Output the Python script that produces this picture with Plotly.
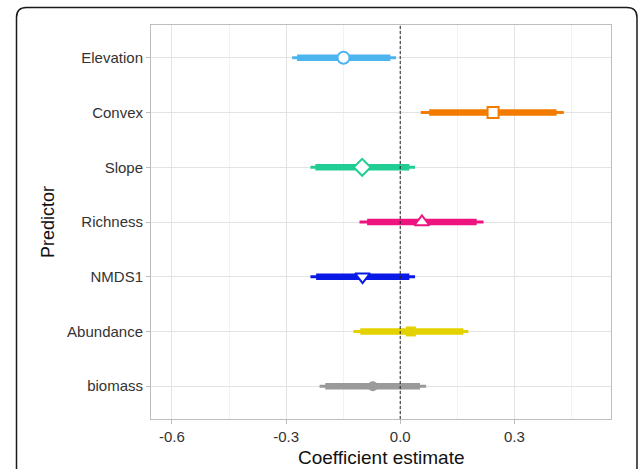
import plotly.graph_objects as go

predictors = ["Elevation", "Convex", "Slope", "Richness", "NMDS1", "Abundance", "biomass"]
estimate = [-0.149, 0.244, -0.100, 0.057, -0.099, 0.028, -0.072]
lo_outer = [-0.284, 0.054, -0.236, -0.107, -0.236, -0.123, -0.212]
hi_outer = [-0.011, 0.430, 0.039, 0.219, 0.039, 0.179, 0.068]
lo_inner = [-0.271, 0.076, -0.223, -0.087, -0.221, -0.105, -0.197]
hi_inner = [-0.026, 0.411, 0.024, 0.201, 0.024, 0.166, 0.052]
colors = ["#4CB4EE", "#F27B00", "#22CC95", "#EE1480", "#0A1AE6", "#E4D200", "#9A9A9A"]
symbols = ["circle", "square", "diamond", "triangle-up", "triangle-down", "square", "circle"]
marker_sizes = [12, 11, 13, 13, 13, 10, 10]
hollow = [True, True, True, True, True, False, False]
x_ticks = [-0.6, -0.3, 0.0, 0.3]
x_tick_labels = ["-0.6", "-0.3", "0.0", "0.3"]
x_title = "Coefficient estimate"
y_title = "Predictor"

W, H = 638, 469
L, R, T, B = 151, 27, 25, 50
pw, ph = W - L - R, H - T - B

fig = go.Figure()
for i, p in enumerate(predictors):
    c = colors[i]
    fig.add_trace(go.Scatter(x=[lo_outer[i], hi_outer[i]], y=[p, p], mode="lines",
                             line=dict(color=c, width=3), showlegend=False, hoverinfo="skip"))
    fig.add_trace(go.Scatter(x=[lo_inner[i], hi_inner[i]], y=[p, p], mode="lines",
                             line=dict(color=c, width=6.5), showlegend=False, hoverinfo="skip"))
    if hollow[i]:
        mk = dict(symbol=symbols[i], size=marker_sizes[i], color="white", line=dict(color=c, width=2))
    else:
        mk = dict(symbol=symbols[i], size=marker_sizes[i], color=c, line=dict(color=c, width=0))
    fig.add_trace(go.Scatter(x=[estimate[i]], y=[p], mode="markers", marker=mk,
                             showlegend=False))


def px2paper(x, y):
    return (x - L) / pw, (H - B - y) / ph


def path(points):
    s = ""
    for cmd, pts in points:
        s += cmd
        s += " ".join("%.5f,%.5f" % px2paper(*pt) for pt in pts) + " "
    return s.strip()


frame = path([
    ("M", [(16.5, 469)]),
    ("L", [(16.5, 17.5)]),
    ("Q", [(16.5, 7.5), (26.5, 7.5)]),
    ("L", [(627, 7.5)]),
    ("Q", [(637, 7.5), (637, 17.5)]),
    ("L", [(637, 469)]),
])

fig.add_shape(type="path", path=frame, xref="paper", yref="paper",
              line=dict(color="#1a1a1a", width=1.5), layer="above")
fig.add_shape(type="line", x0=0, x1=0, y0=0, y1=1, xref="x", yref="paper",
              line=dict(color="#222222", width=1, dash="3px,2px"), layer="above")

xt_x, xt_y = px2paper(381, 457)
yt_x, yt_y = px2paper(48, 222)
fig.add_annotation(text=x_title, x=xt_x, y=xt_y, xref="paper", yref="paper",
                   showarrow=False, xanchor="center", yanchor="middle",
                   font=dict(size=19, color="#111111"))
fig.add_annotation(text=y_title, x=yt_x, y=yt_y, xref="paper", yref="paper",
                   showarrow=False, xanchor="center", yanchor="middle", textangle=-90,
                   font=dict(size=18, color="#111111"))

fig.update_layout(
    width=W, height=H,
    margin=dict(l=L, r=R, t=T, b=B, autoexpand=False),
    paper_bgcolor="white", plot_bgcolor="white",
    font=dict(family="Liberation Sans, Arial, sans-serif", color="#333333"),
)
fig.update_xaxes(
    range=[-0.655, 0.554], tickvals=x_ticks, ticktext=x_tick_labels,
    showgrid=True, gridcolor="#E3E3E3", gridwidth=1,
    minor=dict(dtick=0.15, tick0=-0.45, showgrid=True, gridcolor="#F2F2F2", gridwidth=1),
    showline=True, linecolor="#BDBDBD", linewidth=1, mirror=True,
    ticks="outside", ticklen=4, tickcolor="#BDBDBD",
    tickfont=dict(size=15, color="#333333"), zeroline=False, automargin=False,
)
fig.update_yaxes(
    categoryorder="array", categoryarray=predictors[::-1], range=[-0.6, 6.6],
    showgrid=True, gridcolor="#E3E3E3", gridwidth=1,
    showline=True, linecolor="#BDBDBD", linewidth=1, mirror=True,
    ticks="outside", ticklen=4, tickcolor="#BDBDBD",
    tickfont=dict(size=15, color="#333333"), zeroline=False, automargin=False,
)

fig.write_html("out.html", config={"displayModeBar": False},
               post_script="document.body.style.margin='0';document.body.style.overflow='hidden';")
